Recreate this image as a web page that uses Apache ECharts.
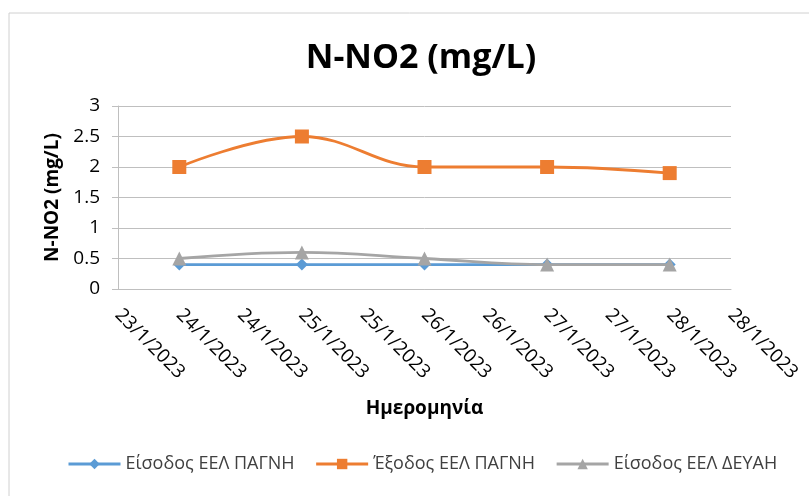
<!DOCTYPE html>
<html>
<head>
<meta charset="utf-8">
<script src="https://cdn.jsdelivr.net/npm/echarts@6/dist/echarts.min.js"></script>
<style>
	html, body { margin: 0; padding: 0; background: #fff; }
	#chart { width: 809px; height: 496px; }
</style>
</head>
<body>
<div id="chart"></div>
<script>
	// tick labels of the date axis (every 12 hours, Excel shows only the day)
	const tickLabels = ['23/1/2023', '24/1/2023', '24/1/2023', '25/1/2023', '25/1/2023', '26/1/2023',
		'26/1/2023', '27/1/2023', '27/1/2023', '28/1/2023', '28/1/2023'];
	// position of each sample on that axis (24/1 .. 28/1 at midnight)
	const sampleTicks = [1, 3, 5, 7, 9];
	const inPagni = [0.4, 0.4, 0.4, 0.4, 0.4];
	const outPagni = [2, 2.5, 2, 2, 1.9];
	const inDeyah = [0.5, 0.6, 0.5, 0.4, 0.4];
	const seriesNames = ['Είσοδος ΕΕΛ ΠΑΓΝΗ', 'Έξοδος ΕΕΛ ΠΑΓΝΗ', 'Είσοδος ΕΕΛ ΔΕΥΑΗ'];

	const font = 'Open Sans';
	const pairs = vals => vals.map((v, i) => [sampleTicks[i], v]);

	let myChart = echarts.init(document.getElementById('chart'));
	myChart.setOption({
		animation: false,
		textStyle: { fontFamily: font },
		graphic: [{
			type: 'rect',
			shape: { x: 9, y: 13, width: 900, height: 600 },
			style: { fill: 'none', stroke: '#d0d0d0', lineWidth: 1 },
			silent: true
		}],
		title: {
			text: 'N-NO2 (mg/L)',
			left: 416,
			top: 36,
			textAlign: 'center',
			textStyle: { fontFamily: font, fontSize: 34, fontWeight: 'bold', color: '#000' }
		},
		legend: {
			bottom: 18,
			left: 62,
			itemGap: 20,
			itemWidth: 52,
			itemHeight: 13,
			lineStyle: { width: 3 },
			textStyle: { fontFamily: font, fontSize: 18, color: '#404040' },
			data: seriesNames
		},
		grid: { left: 118, right: 78, top: 106, bottom: 207 },
		xAxis: {
			type: 'value',
			min: 0,
			max: 10,
			interval: 1,
			name: 'Ημερομηνία',
			nameLocation: 'middle',
			nameGap: 110,
			nameTextStyle: { fontFamily: font, fontSize: 19, fontWeight: 'bold', color: '#000' },
			axisLine: { show: true, lineStyle: { color: '#bfbfbf' } },
			axisTick: { show: false },
			splitLine: { show: false },
			axisLabel: {
				rotate: -45,
				margin: 23,
				fontSize: 19,
				color: '#000',
				formatter: v => tickLabels[v] || ''
			}
		},
		yAxis: {
			type: 'value',
			min: 0,
			max: 3,
			interval: 0.5,
			name: 'N-NO2 (mg/L)',
			nameLocation: 'middle',
			nameGap: 56,
			nameTextStyle: { fontFamily: font, fontSize: 19, fontWeight: 'bold', color: '#000' },
			axisLine: { show: true, lineStyle: { color: '#bfbfbf' } },
			axisTick: { show: true, length: 6, lineStyle: { color: '#bfbfbf' } },
			splitLine: { lineStyle: { color: '#bfbfbf' } },
			axisLabel: { fontSize: 19, color: '#000', margin: 18 }
		},
		series: [{
				name: seriesNames[0],
				type: 'line',
				data: pairs(inPagni),
				symbol: 'diamond',
				symbolSize: 12,
				lineStyle: { width: 2.8, color: '#5b9bd5' },
				itemStyle: { color: '#5b9bd5' },
				z: 4
			},
			{
				name: seriesNames[1],
				type: 'line',
				data: pairs(outPagni),
				smooth: 0.4,
				symbol: 'rect',
				symbolSize: 14,
				lineStyle: { width: 2.8, color: '#ed7d31' },
				itemStyle: { color: '#ed7d31' },
				z: 3
			},
			{
				name: seriesNames[2],
				type: 'line',
				data: pairs(inDeyah),
				smooth: 0.4,
				symbol: 'triangle',
				symbolSize: 14,
				lineStyle: { width: 2.8, color: '#a5a5a5' },
				itemStyle: { color: '#a5a5a5' },
				z: 5
			}
		]
	});
</script>
</body>
</html>
